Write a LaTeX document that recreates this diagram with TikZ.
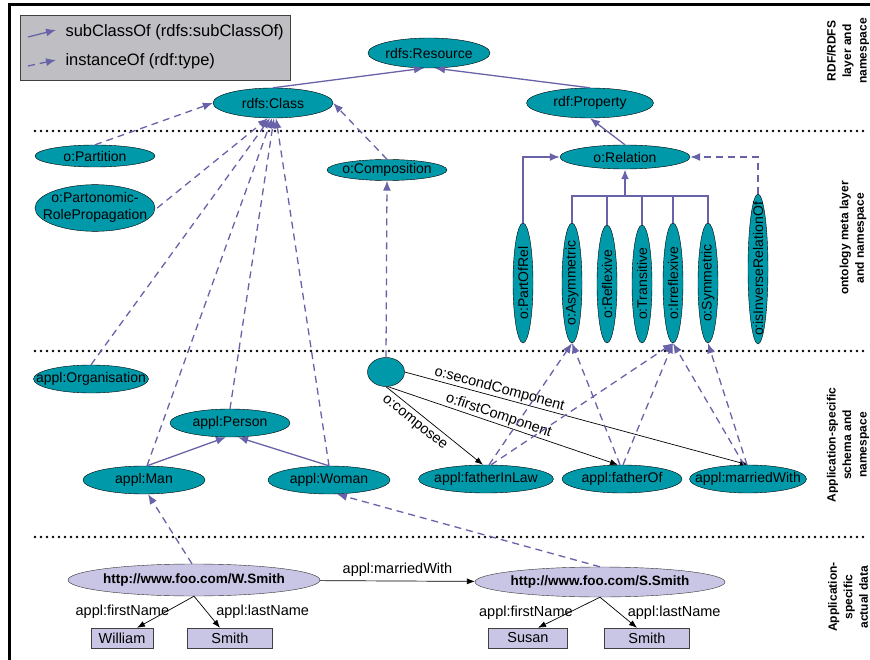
\documentclass[tikz,border=0pt]{standalone}
\usepackage{fontspec}
\setmainfont{Liberation Sans}
\usepackage{tikz}
\usetikzlibrary{arrows.meta, positioning, shapes.geometric}
\definecolor{nodeteal}{RGB}{0,153,170}
\definecolor{linkpurple}{RGB}{104,98,168}
\definecolor{datalav}{RGB}{201,197,229}
\definecolor{legendgray}{RGB}{190,190,195}
\newcommand{\ctr}[1]{\makebox[0pt]{#1}}
\tikzset{
    cls/.style={ellipse, draw=black, fill=nodeteal, inner sep=0pt, minimum height=26pt, font=\fontsize{14}{16}\selectfont},
    vcls/.style={cls, rotate=90, minimum height=20pt},
    datanode/.style={ellipse, draw=black!80, fill=datalav, inner sep=0pt, minimum height=32pt, font=\bfseries\fontsize{13.5}{16}\selectfont},
    litbox/.style={rectangle, draw=black!75, fill=datalav, minimum height=20pt, inner sep=0pt, font=\fontsize{14.5}{16}\selectfont},
    subcls/.style={draw=linkpurple, line width=1.3pt, -{Latex[length=10pt,width=8pt]}},
    inst/.style={subcls, dash pattern=on 7pt off 5pt},
    prop/.style={draw=black, line width=0.7pt, -{Latex[length=8pt,width=6pt]}},
    proplabel/.style={font=\fontsize{14.5}{16}\selectfont, inner sep=1pt},
    layersep/.style={line width=2.6pt, dash pattern=on 0pt off 6pt, line cap=round},
    layertext/.style={rotate=90, align=center, font=\bfseries\fontsize{12}{15.5}\selectfont},
    legendtext/.style={font=\fontsize{16.5}{18}\selectfont, anchor=west}
}

\begin{document}
\begin{tikzpicture}[x=1pt, y=-1pt]
\useasboundingbox (0,0) rectangle (870,660);

% frame
\draw[line width=3pt] (9,660) -- (9,4.5) -- (870,4.5);

% legend
\node[draw=black!75, fill=legendgray, line width=0.8pt, minimum width=270pt, minimum height=65pt, anchor=north west] (legend) at (20,15) {};
\coordinate (suba) at (28,37);
\coordinate (subb) at (56,30);
\draw[subcls] (suba) -- (subb);
\node[legendtext] (subtxt) at (62,32) {subClassOf (rdfs:subClassOf)};
\coordinate (insta) at (28,66);
\coordinate (instb) at (56,60);
\draw[inst] (insta) -- (instb);
\node[legendtext] (insttxt) at (62,61) {instanceOf (rdf:type)};

% layer separators
\draw[layersep] (35,131) -- (868,131);
\draw[layersep] (35,351) -- (868,351);
\draw[layersep] (35,537) -- (868,537);

% layer names
\node[layertext] (lay1) at (848,51) {RDF/RDFS\\layer and\\namespace};
\node[layertext] (lay2) at (853,238) {ontology meta layer\\and namespace};
\node[layertext] (lay3) at (848,445) {Application-specific\\schema and\\namespace};
\node[layertext] (lay4) at (848,597) {Application-\\specific\\actual data};

% RDF/RDFS layer
\node[cls, minimum width=122pt, minimum height=30pt] (resource) at (429,53) {\ctr{rdfs:Resource}};
\node[cls, minimum width=120pt, minimum height=30pt] (class) at (273,103) {\ctr{rdfs:Class}};
\node[cls, minimum width=127pt, minimum height=30pt] (property) at (590,103) {\ctr{rdf:Property}};
\draw[subcls] (class.north) -- ([xshift=-5pt]resource.south);
\draw[subcls] (property.north) -- ([xshift=6pt]resource.south);

% ontology meta layer
\node[cls, minimum width=120pt, minimum height=22pt] (partition) at (95,156) {\ctr{o:Partition}};
\node[cls, minimum width=120pt, minimum height=44pt] (partonomic) at (95,208) {\ctr{\begin{tabular}{@{}c@{}}o:Partonomic-\\[1pt]RolePropagation\end{tabular}}};
\node[cls, minimum width=120pt, minimum height=21pt] (composition) at (387,170) {\ctr{o:Composition}};
\node[cls, minimum width=130pt, minimum height=24pt] (relation) at (625,157) {\ctr{o:Relation}};

\node[vcls, minimum width=120pt] (partof) at (523,283) {\ctr{o:PartOfRel}};
\node[vcls, minimum width=120pt] (asym) at (572,283) {\ctr{o:Asymmetric}};
\node[vcls, minimum width=118pt] (refl) at (607,284) {\ctr{o:Reflexive}};
\node[vcls, minimum width=118pt] (trans) at (642,284) {\ctr{o:Transitive}};
\node[vcls, minimum width=120pt] (irrefl) at (673,283) {\ctr{o:Irreflexive}};
\node[vcls, minimum width=120pt] (sym) at (708,283) {\ctr{o:Symmetric}};
\node[vcls, minimum width=150pt] (inverse) at (758,269) {\ctr{o:isInverseRelationOf}};

\draw[subcls] (relation.north) -- (property.south);
\draw[subcls] (partof.east) |- (relation.west);
\coordinate (bus) at (625,196);
\draw[linkpurple, line width=1.2pt] (asym.east) -- (asym.east |- bus) -- (sym.east |- bus) -- (sym.east);
\foreach \n in {refl,trans,irrefl}
    \draw[linkpurple, line width=1.2pt] (\n.east) -- (\n.east |- bus);
\draw[subcls, line width=2.6pt] (bus) -- (relation.south);
\draw[inst] (inverse.east) |- (relation.east);

\draw[inst] (partition.north) -- (class.west);
\draw[inst] ([xshift=2pt]partonomic.east) -- ([xshift=-5pt]class.south);
\draw[inst] (composition.north) -- (class.east);

% application-specific schema layer
\node[cls, minimum width=115pt, minimum height=28pt] (organisation) at (91,379) {\ctr{appl:Organisation}};
\node[cls, minimum width=120pt, minimum height=28pt] (person) at (230,423) {\ctr{appl:Person}};
\node[cls, minimum width=122pt, minimum height=28pt] (man) at (144,480) {\ctr{appl:Man}};
\node[cls, minimum width=122pt, minimum height=28pt] (woman) at (329,480) {\ctr{appl:Woman}};
\node[cls, minimum width=37pt, minimum height=29pt] (comp) at (386,372) {};
\node[cls, minimum width=135pt, minimum height=28pt] (fil) at (486,479) {\ctr{appl:fatherInLaw}};
\node[cls, minimum width=120pt, minimum height=28pt] (fatherof) at (622,479) {\ctr{appl:fatherOf}};
\node[cls, minimum width=117pt, minimum height=28pt] (married) at (748,479) {\ctr{appl:marriedWith}};

\draw[inst] (organisation.north) -- ([xshift=-3pt]class.south);
\draw[inst] ([xshift=3pt]man.north) -- ([xshift=-1pt]class.south);
\draw[inst] (person.north) -- ([xshift=1pt]class.south);
\draw[inst] (woman.north) -- ([xshift=3pt]class.south);
\draw[subcls] ([xshift=3pt]man.north) -- ([xshift=-4pt]person.south);
\draw[subcls] (woman.north) -- ([xshift=8pt]person.south);
\draw[inst] (comp.north) -- (composition.south);

\draw[prop] (comp.south) -- node[proplabel, sloped, below, pos=0.36, yshift=-4pt] {o:composee} ([xshift=-3pt]fil.north);
\draw[prop] ([xshift=2pt]comp.south) -- node[proplabel, sloped, above, pos=0.47] {o:firstComponent} ([xshift=-4pt]fatherof.north);
\draw[prop] (comp.east) -- node[proplabel, sloped, above, pos=0.27] {o:secondComponent} (married.north);

\draw[inst] ([xshift=3pt]fil.north) -- (asym.west);
\draw[inst] ([xshift=5pt]fil.north) -- (irrefl.west);
\draw[inst] ([xshift=-2pt]fatherof.north) -- (asym.west);
\draw[inst] ([xshift=1pt]fatherof.north) -- (irrefl.west);
\draw[inst] ([xshift=-4pt]married.north) -- (irrefl.west);
\draw[inst] ([xshift=-1pt]married.north) -- (sym.west);

% actual data layer
\node[datanode, minimum width=252pt] (wsmith) at (194,580) {\ctr{http://www.foo.com/W.Smith}};
\node[datanode, minimum width=250pt, minimum height=30pt] (ssmith) at (600,582) {\ctr{http://www.foo.com/S.Smith}};
\node[litbox, minimum width=62pt] (william) at (122,638) {William};
\node[litbox, minimum width=85pt] (wlast) at (230,638) {Smith};
\node[litbox, minimum width=79pt] (susan) at (528,638) {Susan};
\node[litbox, minimum width=85pt] (slast) at (647,638) {Smith};

\draw[prop] (wsmith) -- node[proplabel, above=3pt] {appl:marriedWith} (ssmith);
\draw[prop] (wsmith.south) -- node[proplabel, pos=0.5, anchor=east, xshift=5pt] {appl:firstName} ([xshift=15pt]william.north);
\draw[prop] (wsmith.south) -- node[proplabel, pos=0.5, anchor=west, xshift=8pt] {appl:lastName} ([xshift=-10pt]wlast.north);
\draw[prop] (ssmith.south) -- node[proplabel, pos=0.5, anchor=east, xshift=5pt] {appl:firstName} ([xshift=10pt]susan.north);
\draw[prop] (ssmith.south) -- node[proplabel, pos=0.5, anchor=west, xshift=8pt] {appl:lastName} ([xshift=-10pt]slast.north);

\draw[inst] ([xshift=-2pt]wsmith.north) -- ([xshift=4pt]man.south);
\draw[inst] (ssmith.north) -- ([xshift=8pt]woman.south);
\end{tikzpicture}
\end{document}
